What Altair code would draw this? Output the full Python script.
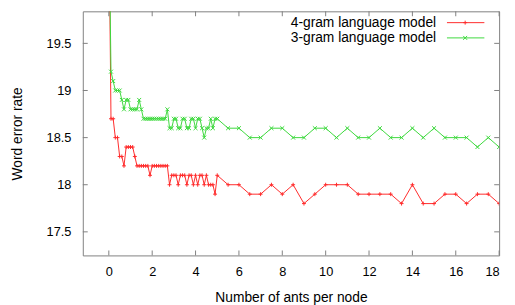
import altair as alt
import pandas as pd

# ---------------- data ----------------
x_vals = [0.0, 0.1, 0.2, 0.3, 0.4, 0.5, 0.6, 0.7, 0.8, 0.9,
          1.0, 1.1, 1.2, 1.3, 1.4, 1.5, 1.6, 1.7, 1.8, 1.9,
          2.0, 2.1, 2.2, 2.3, 2.4, 2.5, 2.6, 2.7, 2.8, 2.9,
          3.0, 3.1, 3.2, 3.3, 3.4, 3.5, 3.6, 3.7, 3.8, 3.9,
          4.0, 4.1, 4.2, 4.3, 4.4, 4.5, 4.6, 4.7, 4.8, 4.9,
          5.0, 5.5, 6.0, 6.5, 7.0, 7.5, 8.0, 8.5, 9.0, 9.5,
          10.0, 10.5, 11.0, 11.5, 12.0, 12.5, 13.0, 13.5, 14.0, 14.5,
          15.0, 15.5, 16.0, 16.5, 17.0, 17.5, 18.0]

wer_4gram = [21.0, 18.7, 18.7, 18.5, 18.5, 18.3, 18.3, 18.2, 18.4, 18.4,
             18.4, 18.4, 18.3, 18.2, 18.2, 18.2, 18.2, 18.2, 18.2, 18.1,
             18.2, 18.2, 18.2, 18.2, 18.2, 18.2, 18.2, 18.2, 18.0, 18.1,
             18.1, 18.1, 18.0, 18.1, 18.1, 18.1, 18.0, 18.1, 18.1, 18.0,
             18.1, 18.0, 18.1, 18.1, 18.0, 18.1, 18.0, 18.0, 18.0, 17.9,
             18.1, 18.0, 18.0, 17.9, 17.9, 18.0, 17.9, 18.0, 17.8, 17.9,
             18.0, 18.0, 18.0, 17.9, 17.9, 17.9, 17.9, 17.8, 18.0, 17.8,
             17.8, 17.9, 17.9, 17.8, 17.9, 17.9, 17.8]

wer_3gram = [21.0, 19.2, 19.1, 19.0, 19.0, 19.0, 18.9, 18.8, 18.9, 18.9,
             18.8, 18.8, 18.8, 18.8, 18.9, 18.8, 18.7, 18.7, 18.7, 18.7,
             18.7, 18.7, 18.7, 18.7, 18.7, 18.7, 18.7, 18.8, 18.6, 18.6,
             18.7, 18.7, 18.6, 18.6, 18.7, 18.7, 18.6, 18.6, 18.7, 18.7,
             18.6, 18.7, 18.7, 18.6, 18.5, 18.6, 18.6, 18.7, 18.6, 18.7,
             18.7, 18.6, 18.6, 18.5, 18.5, 18.6, 18.6, 18.5, 18.5, 18.6,
             18.6, 18.5, 18.6, 18.5, 18.5, 18.6, 18.5, 18.5, 18.6, 18.5,
             18.6, 18.5, 18.5, 18.5, 18.4, 18.5, 18.4]

series_names = ["4-gram language model", "3-gram language model"]
series_colors = ["#ff2a2a", "#3cd83c"]
marker_paths = ["M-1,0L1,0M0,-1L0,1", "M-1,-1L1,1M-1,1L1,-1"]

x_ticks = [0, 2, 4, 6, 8, 10, 12, 14, 16, 18]
y_ticks = [17.5, 18, 18.5, 19, 19.5]

x_domain = [-1.2, 18]
y_domain = [17.25, 19.84]

# ---------------- layout ----------------
W, H = 423, 248
FONT = "Liberation Sans"
FRAME = "#808080"
TICK = 5

df = pd.DataFrame({
    "x": x_vals * 2,
    "wer": wer_4gram + wer_3gram,
    "series": [series_names[0]] * len(x_vals) + [series_names[1]] * len(x_vals),
})

xs = alt.Scale(domain=x_domain, nice=False, zero=False)
ys = alt.Scale(domain=y_domain, nice=False, zero=False)
col = alt.Color("series:N", scale=alt.Scale(domain=series_names, range=series_colors), legend=None)
shp = alt.Shape("series:N", scale=alt.Scale(domain=series_names, range=marker_paths), legend=None)

x_axis = alt.Axis(values=x_ticks, title="Number of ants per node", grid=False, domain=False,
                  ticks=False, tickSize=0, labelPadding=10, titlePadding=13,
                  labelFont=FONT, titleFont=FONT, labelFontSize=13, titleFontSize=14,
                  titleFontWeight="normal", labelColor="black", titleColor="black")
y_axis = alt.Axis(values=y_ticks, title="Word error rate", grid=False, domain=False,
                  ticks=False, tickSize=0, labelPadding=12, titlePadding=22, format="~g",
                  labelFont=FONT, titleFont=FONT, labelFontSize=13, titleFontSize=14,
                  titleFontWeight="normal", labelColor="black", titleColor="black")

base = alt.Chart(df)
lines = base.mark_line(strokeWidth=1, clip=True).encode(
    x=alt.X("x:Q", scale=xs, axis=x_axis),
    y=alt.Y("wer:Q", scale=ys, axis=y_axis),
    color=col,
)
points = base.mark_point(filled=False, size=16, strokeWidth=1, opacity=1, clip=True).encode(
    x=alt.X("x:Q", scale=xs, axis=x_axis),
    y=alt.Y("wer:Q", scale=ys, axis=y_axis),
    color=col,
    shape=shp,
)

# inward ticks on all four sides
xt = alt.Chart(pd.DataFrame({"t": x_ticks}))
yt = alt.Chart(pd.DataFrame({"t": y_ticks}))
tick_bottom = xt.mark_rule(color=FRAME, strokeWidth=1).encode(
    x=alt.X("t:Q", scale=xs, axis=x_axis), y=alt.value(H), y2=alt.value(H - TICK))
tick_top = xt.mark_rule(color=FRAME, strokeWidth=1).encode(
    x=alt.X("t:Q", scale=xs, axis=x_axis), y=alt.value(0), y2=alt.value(TICK))
tick_left = yt.mark_rule(color=FRAME, strokeWidth=1).encode(
    y=alt.Y("t:Q", scale=ys, axis=y_axis), x=alt.value(0), x2=alt.value(TICK))
tick_right = yt.mark_rule(color=FRAME, strokeWidth=1).encode(
    y=alt.Y("t:Q", scale=ys, axis=y_axis), x=alt.value(W), x2=alt.value(W - TICK))

# key (top right, gnuplot style: text then line sample)
legend_layers = []
key_y = [11.5, 27]
for i, name in enumerate(series_names):
    kd = alt.Chart(pd.DataFrame({"label": [name]}))
    legend_layers.append(kd.mark_text(align="right", baseline="middle", font=FONT, fontSize=14,
                                      color="black").encode(
        x=alt.value(359), y=alt.value(key_y[i]), text="label:N"))
    legend_layers.append(kd.mark_rule(color=series_colors[i], strokeWidth=1).encode(
        x=alt.value(370), x2=alt.value(408), y=alt.value(key_y[i])))
    legend_layers.append(kd.mark_point(filled=False, size=16, strokeWidth=1, opacity=1,
                                       color=series_colors[i], shape=marker_paths[i]).encode(
        x=alt.value(388.5), y=alt.value(key_y[i])))

chart = alt.layer(
    lines, points, tick_bottom, tick_top, tick_left, tick_right, *legend_layers
).properties(
    width=W, height=H,
    autosize=alt.AutoSizeParams(type="none"),
    padding={"left": 76, "top": 1, "right": 8, "bottom": 48},
).configure_view(
    stroke=FRAME, strokeWidth=1
)

chart.save("out.html", embed_options={"renderer": "svg", "actions": False})
